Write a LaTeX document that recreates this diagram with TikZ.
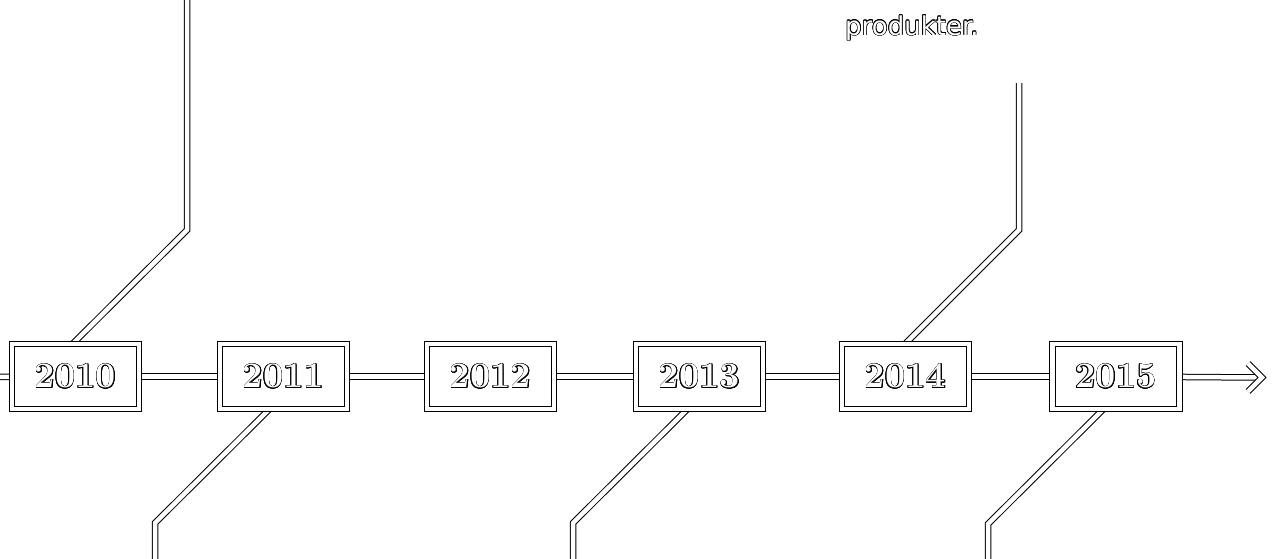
\documentclass[tikz,border=0pt]{standalone}
\usepackage{fontspec}
\newfontfamily\labelsans{DejaVu Sans}
\usepackage{contour}
\contourlength{0.6pt}
\usetikzlibrary{backgrounds}
\begin{document}
\begin{tikzpicture}[x=1pt,y=-1pt,
  dline/.style={draw=black, line width=1pt, double=white, double distance=4.5pt, line join=miter},
  yearbox/.style={dline, fill=white, minimum width=127pt, minimum height=65pt, inner sep=0pt,
    font=\fontsize{36}{36}\selectfont\bfseries, text=white},
  notetext/.style={font=\labelsans\fontsize{26}{26}\selectfont, text=white, inner sep=0pt, anchor=base west}
]
\useasboundingbox (0,0) rectangle (1274,558);

% year boxes
\node[yearbox] (y2010) at (75.5,376.5)  {\contour{black}{2010}};
\node[yearbox] (y2011) at (283.5,376.5) {\contour{black}{2011}};
\node[yearbox] (y2012) at (490.5,376.5) {\contour{black}{2012}};
\node[yearbox] (y2013) at (699.5,376.5) {\contour{black}{2013}};
\node[yearbox] (y2014) at (905.5,376.5) {\contour{black}{2014}};
\node[yearbox] (y2015) at (1116,376.5)  {\contour{black}{2015}};

% text fragment
\node[notetext] (note) at (845,35) {\contour{black}{produkter.}};

% coordinates
\coordinate (lstart) at (-10,377);
\coordinate (aend) at (1258,377.5);
\coordinate (tip) at (1262,377.5);
\coordinate (b10) at (187,230);  \coordinate (e10) at (187,-10);
\coordinate (b11) at (155,523);  \coordinate (e11) at (155,570);
\coordinate (b13) at (573,523);  \coordinate (e13) at (573,570);
\coordinate (b14) at (1019,230); \coordinate (e14) at (1019,83);
\coordinate (b15) at (988,524);  \coordinate (e15) at (988,570);

\begin{scope}[on background layer]
  \draw[dline] (lstart) -- (y2010);
  \draw[dline] (y2010) -- (y2011);
  \draw[dline] (y2011) -- (y2012);
  \draw[dline] (y2012) -- (y2013);
  \draw[dline] (y2013) -- (y2014);
  \draw[dline] (y2014) -- (y2015);
  \draw[dline] (y2015) -- (aend);
  \draw[dline] ([xshift=-2.5pt]y2010.north) -- (b10) -- (e10);
  \draw[dline] ([xshift=-14.5pt]y2011.south) -- (b11) -- (e11);
  \draw[dline] ([xshift=-12.5pt]y2013.south) -- (b13) -- (e13);
  \draw[dline] (y2014.north) -- (b14) -- (e14);
  \draw[dline] ([xshift=-13pt]y2015.south) -- (b15) -- (e15);
\end{scope}

% arrow head (open chevron)
\draw[dline] (tip) ++(-14,-14) -- (tip) -- ++(-14,14);
\end{tikzpicture}
\end{document}
